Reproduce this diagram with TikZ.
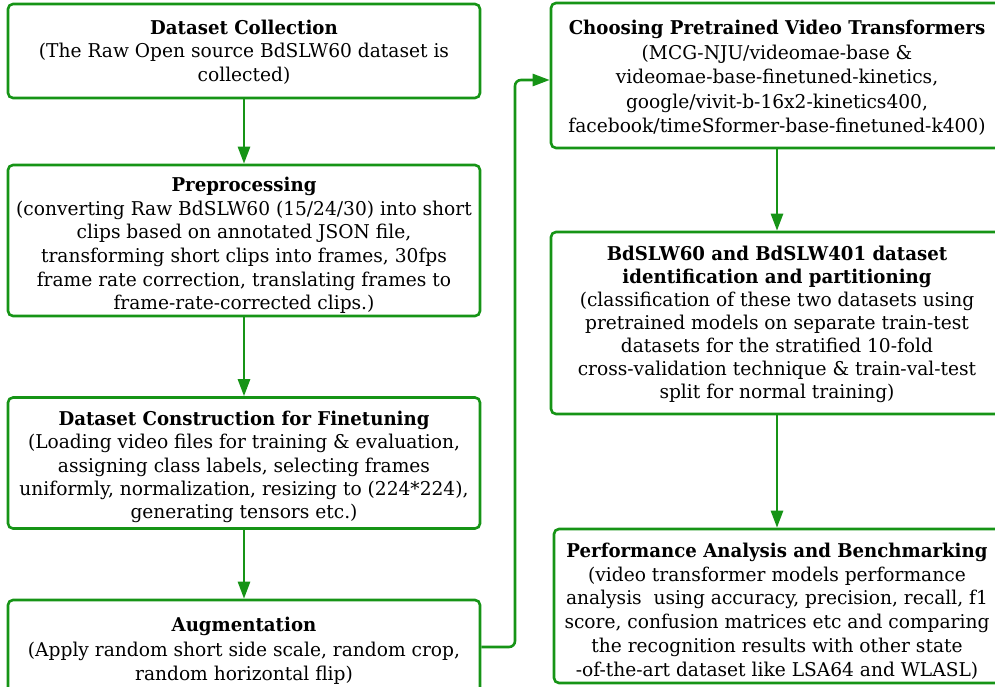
\documentclass[tikz,border=0pt]{standalone}
\usepackage{fontspec}
\setmainfont{DejaVu Serif}[FakeStretch=0.98, BoldFeatures={FakeStretch=0.955}]
\usetikzlibrary{arrows.meta}
\definecolor{flowgreen}{RGB}{22,148,22}
\tikzset{
  box/.style={draw=flowgreen, line width=2.6pt, rounded corners=5pt, fill=white,
    inner sep=0pt},
  boxtext/.style={align=center, inner sep=0pt, text=black,
    font=\fontsize{19}{#1}\selectfont},
  boxtext/.default=23.4,
  flow/.style={draw=flowgreen, line width=2.6pt,
    -{Triangle[length=17pt,width=12pt]}, color=flowgreen},
}
\begin{document}
\begin{tikzpicture}[x=1pt,y=-1pt]
\useasboundingbox (0,0) rectangle (995,686);
% frames
\node[box, minimum width=472pt, minimum height=94pt] (coll) at (244,51) {};
\node[box, minimum width=472pt, minimum height=151pt] (pre) at (244,240.5) {};
\node[box, minimum width=472pt, minimum height=131pt] (cons) at (244,463) {};
\node[box, minimum width=472pt, minimum height=94pt] (aug) at (244,647) {};
\node[box, minimum width=452pt, minimum height=145pt] (choose) at (777,75.5) {};
\node[box, minimum width=452pt, minimum height=182pt] (ident) at (777,323) {};
\node[box, minimum width=446pt, minimum height=154pt] (perf) at (777,606) {};
% texts
\node[boxtext] (collt) at ([yshift=-1pt]coll.center)
  {\textbf{Dataset Collection}\\(The Raw Open source BdSLW60 dataset is\\collected)};
\node[boxtext=23.6] (pret) at ([yshift=-5pt]pre.center)
  {\textbf{Preprocessing}\\(converting Raw BdSLW60 (15/24/30) into short\\clips based on annotated JSON file,\\transforming short clips into frames, 30fps\\frame rate correction, translating frames to\\frame-rate-corrected clips.)};
\node[boxtext] (const) at ([yshift=-4pt]cons.center)
  {\textbf{Dataset Construction for Finetuning}\\(Loading video files for training \& evaluation,\\assigning class labels, selecting frames\\uniformly, normalization, resizing to (224*224),\\generating tensors etc.)};
\node[boxtext=24.5] (augt) at ([yshift=-4pt]aug.center)
  {\textbf{Augmentation}\\(Apply random short side scale, random crop,\\random horizontal flip)};
\node[boxtext=24.5] (chooset) at ([yshift=-2.5pt]choose.center)
  {\textbf{Choosing Pretrained Video Transformers}\\(MCG-NJU/videomae-base \&\\videomae-base-finetuned-kinetics,\\google/vivit-b-16x2-kinetics400,\\facebook/timeSformer-base-finetuned-k400)};
\node[boxtext=23] (identt) at ([yshift=-1pt]ident.center)
  {\textbf{BdSLW60 and BdSLW401 dataset}\\\textbf{identification and partitioning}\\(classification of these two datasets using\\pretrained models on separate train-test\\datasets for the stratified 10-fold\\cross-validation technique \& train-val-test\\split for normal training)};
\node[boxtext=23.8] (perft) at ([yshift=-5pt]perf.center)
  {\textbf{Performance Analysis and Benchmarking}\\(video transformer models performance\\analysis\ \ using accuracy, precision, recall, f1\\score, confusion matrices etc and comparing\\the recognition results with other state\\-of-the-art dataset like LSA64 and WLASL)};
% connectors
\draw[flow] (coll) -- (pre);
\draw[flow] (pre) -- (cons);
\draw[flow] (cons) -- (aug);
\draw[flow] (choose) -- (ident);
\draw[flow] (ident) -- (perf);
\coordinate (bend) at (515,647);
\draw[flow, rounded corners=6pt] (aug.east) -- (bend) |- ([yshift=-4.5pt]choose.west);
\end{tikzpicture}
\end{document}
